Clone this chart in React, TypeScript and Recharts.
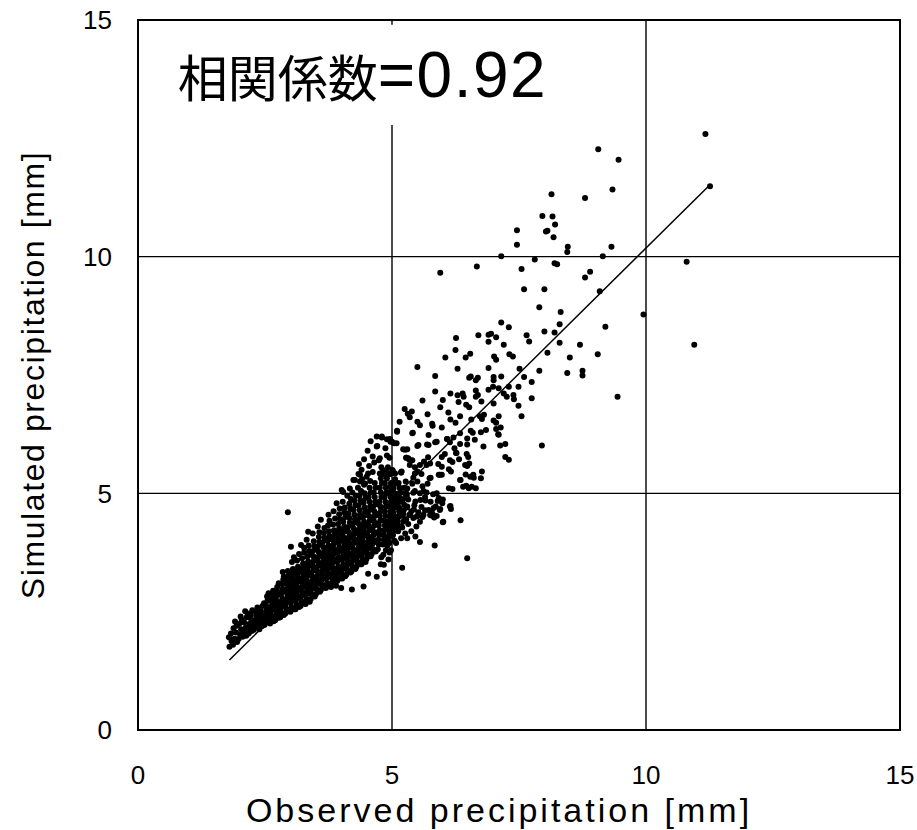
import {
  ScatterChart,
  Scatter,
  XAxis,
  YAxis,
  CartesianGrid,
  ReferenceArea,
  ReferenceLine,
} from "recharts";

type Pt = [number, number];

// observed (x) vs simulated (y) precipitation
const highPoints: Pt[] = [
  [11.17, 12.59], [11.26, 11.49], [9.06, 12.27], [9.46, 12.05], [9.34, 11.42], [8.8, 11.24],
  [8.14, 11.32], [7.96, 10.86], [8.16, 10.85], [8.21, 10.68], [8.03, 10.53], [8.06, 10.55],
  [8.18, 10.41], [7.46, 10.56], [7.46, 10.25], [8.46, 10.21], [9.32, 10.21], [8.45, 10.1],
  [7.15, 10.01], [9.15, 10.01], [7.81, 9.94], [8.2, 9.86], [8.25, 9.84], [10.8, 9.89],
  [5.95, 9.66], [6.67, 9.79], [7.55, 9.74], [8.8, 9.56], [8.9, 9.68], [7.6, 9.31],
  [8.0, 9.31], [9.09, 9.27], [7.9, 8.93], [8.32, 8.83], [9.95, 8.78], [7.15, 8.61],
  [7.3, 8.51], [8.3, 8.57], [9.2, 8.52], [6.26, 8.28], [6.7, 8.34], [6.9, 8.35],
  [6.95, 8.37], [7.05, 8.3], [6.9, 8.2], [7.65, 8.34], [7.7, 8.21], [8.0, 8.42],
  [8.2, 8.4], [8.3, 8.18], [8.7, 8.14], [10.95, 8.14], [7.2, 8.14], [6.25, 8.03],
];

const midPoints: Pt[] = [
  [6.05, 7.87], [6.45, 7.87], [6.54, 7.95], [7.01, 7.89], [7.05, 7.82], [7.31, 7.94], [7.38, 7.89],
  [8.06, 7.97], [8.5, 7.87], [9.05, 7.94], [5.5, 7.67], [6.29, 7.63], [6.9, 7.65], [7.51, 7.63],
  [7.9, 7.59], [8.45, 7.54], [8.75, 7.59], [8.75, 7.49], [5.85, 7.48], [6.52, 7.44], [6.55, 7.47],
  [6.65, 7.39], [6.69, 7.44], [7.0, 7.46], [7.0, 7.39], [7.15, 7.47], [7.6, 7.46], [7.75, 7.35],
  [9.44, 7.04], [5.6, 6.96], [5.85, 7.15], [6.0, 6.97], [6.15, 7.11], [6.29, 7.07], [6.31, 6.93],
  [6.39, 7.11], [6.41, 7.04], [6.46, 6.87], [6.52, 6.82], [6.65, 7.17], [6.69, 7.08], [6.65, 7.04],
  [6.76, 6.94], [6.9, 7.19], [6.99, 7.25], [7.0, 6.9], [7.1, 7.22], [7.2, 7.11], [7.26, 7.04],
  [7.3, 7.25], [7.39, 7.08], [7.4, 6.99], [7.49, 7.25], [7.49, 6.85], [7.75, 7.01], [7.55, 6.63],
  [5.25, 6.78], [5.31, 6.68], [5.39, 6.73], [5.35, 6.61], [5.15, 6.51], [5.1, 6.32], [5.41, 6.28],
  [5.5, 6.51], [5.55, 6.44], [5.7, 6.67], [5.79, 6.47], [5.8, 6.43], [5.72, 6.23], [5.95, 6.82],
  [5.98, 6.39], [6.11, 6.71], [6.15, 6.56], [6.25, 6.49], [6.34, 6.63], [6.56, 6.56], [6.55, 6.32],
  [6.59, 6.28], [6.73, 6.63], [6.77, 6.57], [6.81, 6.66], [6.75, 6.29], [6.85, 6.34], [7.0, 6.54],
  [7.05, 6.49], [7.1, 6.63], [7.14, 6.39], [7.05, 6.36], [7.09, 6.25], [6.08, 6.15], [6.21, 6.18],
  [6.34, 6.27], [6.48, 6.16], [4.8, 6.2], [4.96, 6.15], [7.95, 6.01], [7.1, 6.24], [6.8, 5.99],
  [6.63, 6.13], [6.48, 6.03], [6.34, 6.04], [6.23, 5.95], [6.09, 6.15], [6.14, 6.08], [5.85, 6.08],
  [5.69, 6.03], [5.5, 6.0], [5.4, 6.27], [7.13, 6.01], [7.23, 6.04], [4.7, 6.2], [4.71, 6.0],
];

const shoulderPoints: Pt[] = [
  [7.23, 5.77], [7.3, 5.71], [6.47, 5.83], [6.5, 5.77], [6.52, 5.63], [6.48, 5.58], [6.26, 5.85],
  [6.32, 5.72], [6.19, 5.66], [6.04, 5.83], [5.98, 5.77], [5.91, 5.62], [5.98, 5.56], [5.63, 5.67],
  [5.71, 5.76], [5.75, 5.63], [5.28, 5.75], [5.34, 5.71], [5.4, 5.7], [5.22, 5.93], [5.3, 5.93],
  [4.9, 5.8], [5.0, 6.09], [5.5, 5.46], [5.58, 5.41], [5.42, 5.33], [5.18, 5.44], [5.01, 5.49],
  [4.96, 5.41], [4.85, 5.4], [6.12, 5.51], [6.16, 5.46], [5.92, 5.39], [5.98, 5.39], [5.74, 5.32],
  [5.76, 5.33], [6.45, 5.4], [6.54, 5.35], [6.61, 5.33], [6.75, 5.32], [6.77, 5.46], [6.35, 5.28],
  [6.46, 5.16], [6.51, 5.11], [6.65, 5.11], [6.12, 5.11], [6.19, 5.09], [5.99, 4.79], [6.15, 4.73],
  [6.16, 4.67], [5.77, 4.53], [5.83, 4.49], [6.0, 4.39], [6.35, 4.43], [5.46, 4.09], [5.55, 3.97],
  [5.84, 3.9], [5.2, 3.43], [6.48, 3.63], [4.84, 3.49], [4.86, 3.31], [5.26, 5.92], [5.32, 5.74],
  [5.52, 6.02], [5.72, 6.02], [5.88, 6.09], [5.45, 5.42], [5.68, 5.6], [5.94, 5.39], [6.14, 5.7],
  [6.27, 5.85], [6.44, 5.6], [6.6, 5.39], [6.57, 5.14], [6.34, 5.28], [6.4, 5.14], [5.49, 4.51],
  [5.75, 4.54], [5.94, 4.65], [6.01, 4.4], [6.14, 4.72], [4.76, 5.74], [4.53, 5.42], [4.24, 5.28],
  [4.37, 5.39], [4.47, 5.21], [4.04, 5.03], [4.82, 5.46], [5.06, 5.42], [5.19, 5.46], [4.96, 5.14],
  [4.9, 5.0], [5.03, 4.98], [5.16, 5.02], [5.29, 4.99], [5.42, 5.01], [5.55, 5.0], [5.68, 5.02],
  [5.81, 4.98], [5.88, 5.0], [5.08, 4.86], [5.2, 4.84], [5.32, 4.87], [5.46, 4.83], [5.56, 4.86],
  [5.66, 4.85], [5.76, 4.82], [5.9, 4.84], [6.0, 4.87], [5.05, 4.7], [5.15, 4.68], [5.3, 4.72],
  [5.43, 4.66], [5.58, 4.71], [5.65, 4.64], [5.82, 4.69], [5.95, 4.67], [5.03, 4.54], [5.13, 4.51],
  [5.22, 4.57], [5.36, 4.54], [5.5, 4.52], [5.6, 4.5], [5.8, 4.56], [5.88, 4.52], [4.88, 4.4],
  [5.0, 4.36], [5.08, 4.3], [5.12, 4.2], [5.02, 4.12], [5.05, 4.0], [4.95, 3.95], [4.98, 3.8],
  [4.92, 4.25], [4.88, 4.05], [4.85, 3.95], [5.32, 4.35], [5.34, 4.55], [5.38, 4.62], [5.42, 4.48],
  [5.44, 4.75], [5.48, 4.3], [5.52, 4.6], [5.62, 4.55], [5.65, 4.92], [5.72, 4.65], [5.78, 4.62],
  [5.86, 4.72], [5.92, 4.9], [5.4, 5.2], [5.5, 5.25], [5.6, 5.15], [5.7, 5.2], [5.35, 5.6],
  [5.45, 5.55], [5.55, 5.6], [5.3, 5.1], [5.45, 5.05], [5.62, 5.05], [5.38, 4.2], [5.55, 4.4],
  [5.3, 4.05], [4.35, 5.62], [4.45, 5.72], [4.55, 5.58], [4.62, 5.78], [4.52, 5.9], [4.4, 5.5],
  [4.65, 5.65], [4.58, 6.1], [4.92, 5.55], [4.95, 5.75], [2.95, 4.6], [4.7, 5.99],
];

const bandPoints: Pt[] = [
  [1.8, 1.76], [1.79, 1.96], [1.84, 1.88], [1.83, 2.04], [1.87, 1.8],
  [1.91, 2.29], [1.9, 1.93], [1.93, 2.06], [1.88, 2.15], [1.95, 1.86], [1.94, 2.2],
  [1.98, 1.92], [2.01, 2.02], [2.03, 2.13], [1.99, 2.24], [2.04, 2.33], [2.06, 1.97], [2.02, 2.4],
  [2.08, 2.05], [2.11, 2.51], [2.12, 2.16], [2.09, 2.27], [2.14, 2.38], [2.13, 1.99], [2.16, 2.46], [2.1, 2.11],
  [2.18, 2.04], [2.21, 2.14], [2.19, 2.24], [2.23, 2.33], [2.22, 2.43], [2.25, 2.53], [2.24, 2.09], [2.27, 2.2], [2.2, 2.38],
  [2.28, 2.12], [2.31, 2.22], [2.29, 2.31], [2.33, 2.41], [2.32, 2.5], [2.35, 2.59], [2.3, 2.17], [2.36, 2.28], [2.34, 2.46], [2.37, 2.36],
  [2.36, 2.55], [2.39, 2.13], [2.41, 2.23], [2.4, 2.33], [2.43, 2.43], [2.42, 2.51], [2.45, 2.62], [2.44, 2.19], [2.47, 2.3], [2.46, 2.4], [2.48, 2.68],
  [2.49, 2.22], [2.51, 2.32], [2.5, 2.43], [2.53, 2.53], [2.52, 2.63], [2.55, 2.73], [2.54, 2.82], [2.57, 2.27], [2.56, 2.38], [2.58, 2.48], [2.59, 2.58], [2.57, 2.89],
  [2.6, 2.25], [2.62, 2.35], [2.61, 2.45], [2.63, 2.55], [2.64, 2.65], [2.62, 2.75], [2.65, 2.85], [2.66, 2.94], [2.67, 2.3], [2.68, 2.4], [2.69, 2.6], [2.67, 2.7], [2.69, 2.8],
  [2.7, 2.32], [2.72, 2.42], [2.71, 2.52], [2.73, 2.62], [2.74, 2.72], [2.72, 2.82], [2.75, 2.92], [2.74, 3.02], [2.77, 3.1], [2.77, 2.37], [2.78, 2.47], [2.79, 2.57], [2.78, 2.67], [2.79, 2.87],
  [2.8, 2.38], [2.82, 2.48], [2.81, 2.58], [2.83, 2.68], [2.84, 2.78], [2.82, 2.88], [2.85, 2.98], [2.84, 3.08], [2.86, 3.18], [2.85, 3.34], [2.87, 2.43], [2.88, 2.63], [2.89, 2.73], [2.88, 2.93], [2.89, 3.13], [2.87, 3.24],
  [2.9, 2.46], [2.92, 2.56], [2.91, 2.66], [2.93, 2.76], [2.94, 2.86], [2.92, 2.96], [2.95, 3.06], [2.94, 3.16], [2.96, 3.26], [2.95, 3.36], [2.97, 2.51], [2.98, 2.71], [2.99, 2.91], [2.98, 3.11], [2.99, 3.31],
  [3.0, 2.5], [3.02, 2.6], [3.01, 2.7], [3.03, 2.8], [3.04, 2.9], [3.02, 3.0], [3.05, 3.1], [3.04, 3.2], [3.06, 3.3], [3.05, 3.4], [3.01, 3.87], [3.03, 3.55], [3.07, 2.55], [3.08, 2.75], [3.09, 2.95], [3.08, 3.15], [3.09, 3.35], [3.07, 3.65],
  [3.1, 2.55], [3.12, 2.65], [3.11, 2.75], [3.13, 2.85], [3.14, 2.95], [3.12, 3.05], [3.15, 3.15], [3.14, 3.25], [3.16, 3.35], [3.15, 3.45], [3.13, 3.58], [3.17, 3.72], [3.17, 2.6], [3.18, 2.8], [3.19, 3.0], [3.18, 3.2], [3.19, 3.4], [3.21, 3.91],
  [3.2, 2.62], [3.22, 2.72], [3.21, 2.82], [3.23, 2.92], [3.24, 3.02], [3.22, 3.12], [3.25, 3.22], [3.24, 3.32], [3.26, 3.42], [3.25, 3.52], [3.23, 3.63], [3.27, 3.75], [3.28, 2.67], [3.28, 2.87], [3.29, 3.07], [3.28, 3.27], [3.29, 3.47], [3.27, 3.85],
  [3.3, 2.66], [3.32, 2.76], [3.31, 2.86], [3.33, 2.96], [3.34, 3.06], [3.32, 3.16], [3.35, 3.26], [3.34, 3.36], [3.36, 3.46], [3.35, 3.56], [3.33, 3.66], [3.37, 3.78], [3.36, 3.9], [3.35, 4.19], [3.38, 2.71], [3.38, 2.91], [3.39, 3.11], [3.38, 3.31], [3.39, 3.51], [3.39, 3.71], [3.32, 4.02],
  [3.4, 2.77], [3.42, 2.87], [3.41, 2.97], [3.43, 3.07], [3.44, 3.17], [3.42, 3.27], [3.45, 3.37], [3.44, 3.47], [3.46, 3.57], [3.45, 3.67], [3.43, 3.77], [3.47, 3.88], [3.46, 3.99], [3.44, 4.15], [3.48, 2.82], [3.48, 3.02], [3.49, 3.22], [3.48, 3.42], [3.49, 3.62], [3.49, 3.82],
  [3.5, 2.87], [3.52, 2.97], [3.51, 3.07], [3.53, 3.17], [3.54, 3.27], [3.52, 3.37], [3.55, 3.47], [3.54, 3.57], [3.56, 3.67], [3.55, 3.77], [3.53, 3.87], [3.57, 3.97], [3.56, 4.08], [3.54, 4.3], [3.58, 2.92], [3.58, 3.12], [3.59, 3.32], [3.58, 3.52], [3.59, 3.72], [3.59, 3.92], [3.57, 4.18],
  [3.6, 2.96], [3.62, 3.06], [3.61, 3.16], [3.63, 3.26], [3.64, 3.36], [3.62, 3.46], [3.65, 3.56], [3.64, 3.66], [3.66, 3.76], [3.65, 3.86], [3.63, 3.96], [3.67, 4.06], [3.66, 4.16], [3.6, 4.44], [3.68, 3.01], [3.68, 3.21], [3.69, 3.41], [3.68, 3.61], [3.69, 3.81], [3.69, 4.01], [3.67, 4.27],
  [3.7, 3.0], [3.72, 3.1], [3.71, 3.2], [3.73, 3.3], [3.74, 3.4], [3.72, 3.5], [3.75, 3.6], [3.74, 3.7], [3.76, 3.8], [3.75, 3.9], [3.73, 4.0], [3.77, 4.1], [3.76, 4.2], [3.74, 4.32], [3.75, 4.55], [3.78, 3.05], [3.78, 3.25], [3.79, 3.45], [3.78, 3.65], [3.79, 3.85], [3.79, 4.05], [3.77, 4.42],
  [3.8, 3.02], [3.82, 3.12], [3.81, 3.22], [3.83, 3.32], [3.84, 3.42], [3.82, 3.52], [3.85, 3.62], [3.84, 3.72], [3.86, 3.82], [3.85, 3.92], [3.83, 4.02], [3.87, 4.12], [3.86, 4.22], [3.84, 4.34], [3.88, 4.47], [3.85, 4.62], [3.88, 3.17], [3.88, 3.37], [3.89, 3.57], [3.88, 3.77], [3.89, 3.97], [3.89, 4.17], [3.91, 4.79],
  [3.9, 3.05], [3.92, 3.15], [3.91, 3.25], [3.93, 3.35], [3.94, 3.45], [3.92, 3.55], [3.95, 3.65], [3.94, 3.75], [3.96, 3.85], [3.95, 3.95], [3.93, 4.05], [3.97, 4.15], [3.96, 4.25], [3.94, 4.35], [3.98, 4.45], [3.96, 4.56], [3.98, 3.2], [3.98, 3.4], [3.99, 3.6], [3.98, 3.8], [3.99, 4.0], [3.99, 4.2], [3.97, 4.68],
  [4.0, 3.0], [4.02, 3.2], [4.01, 3.3], [4.03, 3.4], [4.04, 3.5], [4.02, 3.6], [4.05, 3.7], [4.04, 3.8], [4.06, 3.9], [4.05, 4.0], [4.03, 4.1], [4.07, 4.2], [4.06, 4.3], [4.04, 4.4], [4.08, 4.5], [4.06, 4.6], [4.01, 5.07], [4.03, 4.82], [4.08, 3.25], [4.08, 3.45], [4.09, 3.65], [4.08, 3.85], [4.09, 4.05], [4.09, 4.25], [4.07, 4.7],
  [4.1, 3.28], [4.12, 3.38], [4.11, 3.48], [4.13, 3.58], [4.14, 3.68], [4.12, 3.78], [4.15, 3.88], [4.14, 3.98], [4.16, 4.08], [4.15, 4.18], [4.13, 4.28], [4.17, 4.38], [4.16, 4.48], [4.14, 4.58], [4.18, 4.68], [4.16, 4.78], [4.12, 4.95], [4.18, 3.33], [4.18, 3.53], [4.19, 3.73], [4.18, 3.93], [4.19, 4.13], [4.19, 4.33], [4.17, 5.1], [4.19, 4.88],
  [4.21, 2.97], [4.2, 3.35], [4.22, 3.45], [4.21, 3.55], [4.23, 3.65], [4.24, 3.75], [4.22, 3.85], [4.25, 3.95], [4.24, 4.05], [4.26, 4.15], [4.25, 4.25], [4.23, 4.35], [4.27, 4.45], [4.26, 4.55], [4.24, 4.65], [4.28, 4.75], [4.26, 4.85], [4.27, 5.28], [4.22, 5.02], [4.28, 3.4], [4.28, 3.6], [4.29, 3.8], [4.28, 4.0], [4.29, 4.2], [4.29, 4.4], [4.29, 4.95],
  [4.3, 3.45], [4.32, 3.55], [4.31, 3.65], [4.33, 3.75], [4.34, 3.85], [4.32, 3.95], [4.35, 4.05], [4.34, 4.15], [4.36, 4.25], [4.35, 4.35], [4.33, 4.45], [4.37, 4.55], [4.36, 4.65], [4.34, 4.75], [4.38, 4.85], [4.36, 4.95], [4.34, 5.41], [4.33, 5.12], [4.38, 3.5], [4.38, 3.7], [4.39, 3.9], [4.38, 4.1], [4.39, 4.3], [4.39, 4.5], [4.39, 5.05], [4.37, 5.25],
  [4.44, 3.03], [4.4, 3.5], [4.42, 3.6], [4.41, 3.7], [4.43, 3.8], [4.44, 3.9], [4.42, 4.0], [4.45, 4.1], [4.44, 4.2], [4.46, 4.3], [4.45, 4.4], [4.43, 4.5], [4.47, 4.6], [4.46, 4.7], [4.44, 4.8], [4.48, 4.9], [4.46, 5.0], [4.45, 5.18], [4.5, 5.35], [4.48, 3.55], [4.48, 3.75], [4.49, 3.95], [4.48, 4.15], [4.49, 4.35], [4.49, 4.55], [4.41, 5.3],
  [4.5, 3.62], [4.52, 3.72], [4.51, 3.82], [4.53, 3.92], [4.54, 4.02], [4.52, 4.12], [4.55, 4.22], [4.54, 4.32], [4.56, 4.42], [4.55, 4.52], [4.53, 4.62], [4.57, 4.72], [4.56, 4.82], [4.54, 4.92], [4.58, 5.02], [4.56, 5.12], [4.58, 3.67], [4.58, 3.87], [4.59, 4.07], [4.58, 4.27], [4.59, 4.47], [4.59, 4.67], [4.57, 5.26], [4.53, 3.3],
  [4.6, 3.72], [4.62, 3.82], [4.61, 3.92], [4.63, 4.02], [4.64, 4.12], [4.62, 4.22], [4.65, 4.32], [4.64, 4.42], [4.66, 4.52], [4.65, 4.62], [4.63, 4.72], [4.67, 4.82], [4.66, 4.92], [4.64, 5.02], [4.68, 5.12], [4.66, 5.22], [4.62, 5.45], [4.68, 3.77], [4.68, 3.97], [4.69, 4.17], [4.68, 4.37], [4.69, 4.57], [4.69, 4.77], [4.7, 3.24],
  [4.72, 3.82], [4.74, 3.92], [4.73, 4.02], [4.75, 4.12], [4.76, 4.22], [4.74, 4.32], [4.77, 4.42], [4.76, 4.52], [4.78, 4.62], [4.77, 4.72], [4.75, 4.82], [4.79, 4.92], [4.78, 5.02], [4.76, 5.12], [4.8, 5.22], [4.78, 5.32], [4.76, 5.42], [4.8, 6.18], [4.78, 3.5], [4.79, 3.65], [4.74, 5.7], [4.79, 5.55],
  [4.82, 3.92], [4.84, 4.02], [4.83, 4.12], [4.85, 4.22], [4.86, 4.32], [4.84, 4.42], [4.87, 4.52], [4.86, 4.62], [4.88, 4.72], [4.87, 4.82], [4.85, 4.92], [4.89, 5.02], [4.88, 5.12], [4.86, 5.22], [4.9, 5.32], [4.88, 5.49], [4.9, 6.14], [4.87, 5.95], [4.83, 3.7], [4.88, 3.8],
  [4.92, 4.02], [4.94, 4.12], [4.93, 4.22], [4.95, 4.32], [4.96, 4.42], [4.94, 4.52], [4.97, 4.62], [4.96, 4.72], [4.98, 4.82], [4.97, 4.92], [4.95, 5.02], [4.99, 5.12], [4.98, 5.22], [4.96, 5.41], [4.97, 6.09], [4.91, 3.9], [4.95, 3.75], [4.99, 4.1], [4.93, 3.6],
  [5.0, 4.1], [5.02, 4.2], [5.01, 4.3], [5.03, 4.4], [5.04, 4.5], [5.02, 4.6], [5.05, 4.7], [5.04, 4.8], [5.06, 4.9], [5.05, 5.0], [5.03, 5.1], [5.07, 5.2], [5.06, 5.3], [5.01, 5.49], [5.04, 6.06], [5.09, 6.06], [5.08, 3.95], [5.09, 4.35], [5.08, 4.75],
  [5.1, 4.22], [5.12, 4.32], [5.11, 4.42], [5.13, 4.52], [5.14, 4.62], [5.12, 4.72], [5.15, 4.82], [5.14, 4.92], [5.16, 5.02], [5.15, 5.12], [5.13, 5.22], [5.1, 6.3], [5.18, 5.44], [5.18, 4.05], [5.19, 4.55], [5.18, 4.3],
  [5.2, 4.28], [5.22, 4.4], [5.21, 4.52], [5.23, 4.64], [5.24, 4.76], [5.22, 4.88], [5.25, 5.0], [5.24, 5.12], [5.28, 5.75], [5.28, 4.45], [5.29, 4.7], [5.29, 4.95], [5.27, 5.25], [5.26, 4.15],
];

const xTicks = [0, 5, 10, 15];
const yTicks = [0, 5, 10, 15];
const fitLine = [{ x: 1.8, y: 1.48 }, { x: 11.26, y: 11.52 }];
const correlationName = "相関係数";
const correlationValue = "=0.92";

const points = [...bandPoints, ...shoulderPoints, ...midPoints, ...highPoints].map(([x, y]) => ({ x, y }));

const font = "'Liberation Sans', Arial, sans-serif";

const Dot = (props: any) => <circle cx={props.cx} cy={props.cy} r={3} fill="#000" />;

const CorrelationLabel = (props: any) => {
  const { x, y } = props.viewBox;
  return (
    <text x={x + 27} y={y + 72} fill="#000">
      <tspan fontFamily="'Noto Sans CJK JP', sans-serif" fontSize={50}>
        {correlationName}
      </tspan>
      <tspan fontFamily={font} fontSize={64} letterSpacing={1.5}>
        {correlationValue}
      </tspan>
    </text>
  );
};

export default function App() {
  return (
    <div style={{ position: "absolute", left: 0, top: 0, width: 917, height: 830, background: "#fff" }}>
      <ScatterChart width={917} height={830} margin={{ top: 20, right: 17, bottom: 0, left: 0 }}>
        <CartesianGrid stroke="#000" strokeWidth={1.4} />
        <XAxis
          type="number"
          dataKey="x"
          domain={[0, 15]}
          ticks={xTicks}
          height={100}
          tickLine={false}
          tickMargin={30}
          axisLine={{ stroke: "#000", strokeWidth: 2 }}
          tick={{ fill: "#000", fontSize: 26, fontFamily: font }}
          label={{
            value: "Observed precipitation [mm]",
            position: "insideBottom",
            offset: 8,
            dx: -20,
            fill: "#000",
            fontSize: 34,
            fontFamily: font,
            letterSpacing: 3,
          }}
        />
        <YAxis
          type="number"
          dataKey="y"
          domain={[0, 15]}
          ticks={yTicks}
          width={138}
          tickLine={false}
          tickMargin={20}
          axisLine={{ stroke: "#000", strokeWidth: 2 }}
          tick={{ fill: "#000", fontSize: 26, fontFamily: font }}
          label={{
            value: "Simulated precipitation [mm]",
            angle: -90,
            position: "insideLeft",
            offset: 33,
            fill: "#000",
            fontSize: 32,
            fontFamily: font,
            letterSpacing: 1.6,
            style: { textAnchor: "middle" },
          }}
        />
        <ReferenceArea
          x1={0.25}
          x2={8.6}
          y1={12.78}
          y2={14.9}
          fill="#fff"
          fillOpacity={1}
          stroke="none"
          label={CorrelationLabel}
        />
        <ReferenceArea x1={0} x2={15} y1={0} y2={15} fill="none" stroke="#000" strokeWidth={2} />
        <Scatter data={points} shape={Dot} isAnimationActive={false} />
        <ReferenceLine segment={fitLine} stroke="#000" strokeWidth={1.5} ifOverflow="visible" />
      </ScatterChart>
    </div>
  );
}
